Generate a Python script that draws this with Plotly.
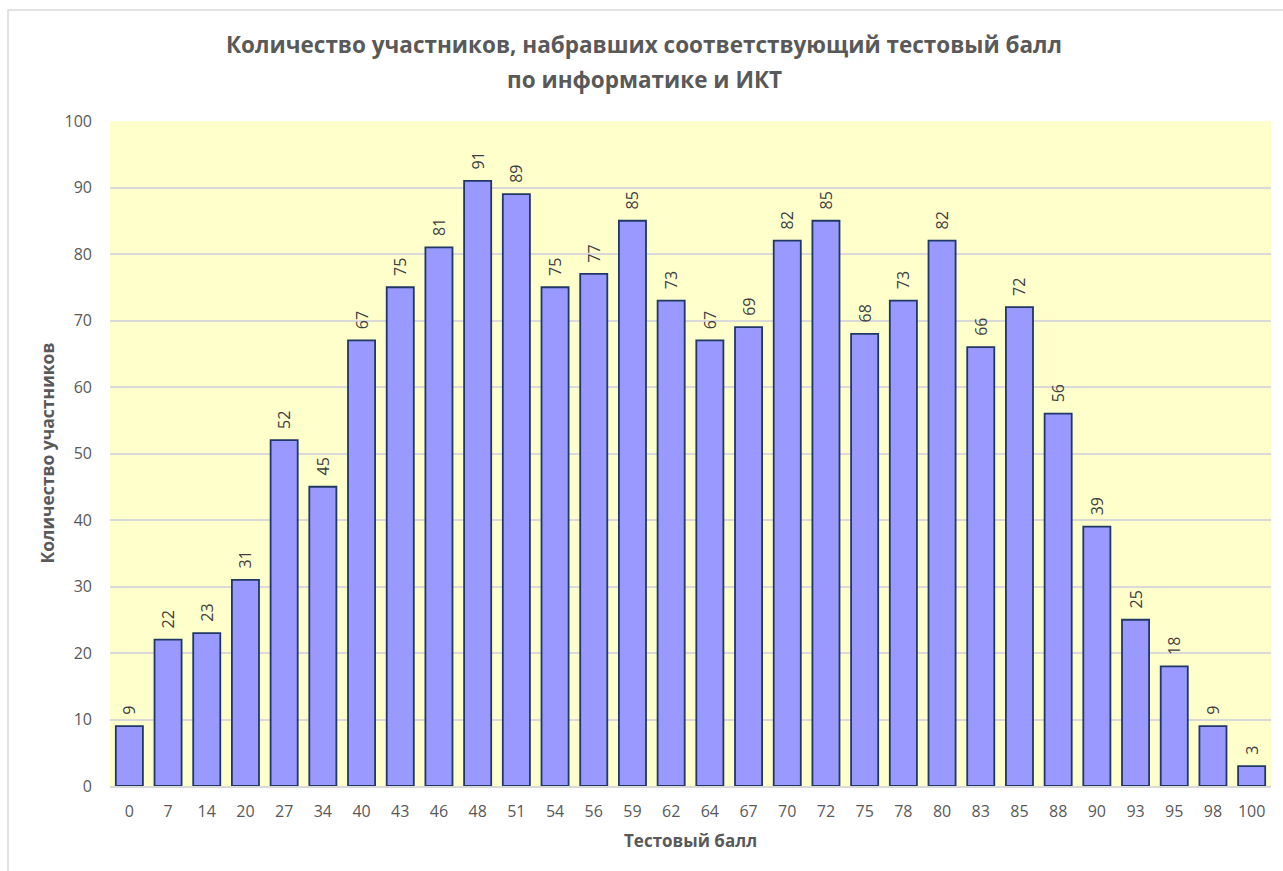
import plotly.graph_objects as go

scores = ["0", "7", "14", "20", "27", "34", "40", "43", "46", "48", "51", "54", "56", "59", "62",
          "64", "67", "70", "72", "75", "78", "80", "83", "85", "88", "90", "93", "95", "98", "100"]
counts = [9, 22, 23, 31, 52, 45, 67, 75, 81, 91, 89, 75, 77, 85, 73,
          67, 69, 82, 85, 68, 73, 82, 66, 72, 56, 39, 25, 18, 9, 3]

title_line1 = "Количество участников, набравших соответствующий тестовый балл"
title_line2 = "по информатике и ИКТ"
x_title = "Тестовый балл"
y_title = "Количество участников"

FONT = "Open Sans, Noto Sans, DejaVu Sans, sans-serif"
GREY = "#595959"

L, R, T, B = 110, 12, 121, 85
W, H = 1283, 871
PH = H - T - B
PW = W - L - R
TITLE_X = (644 - L) / PW

fig = go.Figure(go.Bar(
    x=scores, y=counts,
    marker=dict(color="#9999FF", line=dict(color="#1F3864", width=1.8)),
    text=["\u00a0\u00a0" + str(v) for v in counts],
    textposition="outside",
    textangle=-90,
    constraintext="none",
    textfont=dict(family=FONT, size=16, color="#404040"),
    cliponaxis=False,
))

fig.update_layout(
    width=W, height=H,
    margin=dict(l=L, r=R, t=T, b=B, autoexpand=False),
    paper_bgcolor="white",
    plot_bgcolor="#FFFFCC",
    bargap=0.3,
    showlegend=False,
    xaxis=dict(type="category", showgrid=False, ticks="outside", ticklen=10, tickcolor="rgba(0,0,0,0)",
               showline=True, linecolor="#D9D9D9", linewidth=2,
               tickfont=dict(family=FONT, size=16, color=GREY),
               automargin=False),
    yaxis=dict(range=[0, 100], dtick=10, showgrid=True, gridcolor="#D9D9D9", gridwidth=1.5,
               zeroline=False, ticks="", showline=False,
               tickfont=dict(family=FONT, size=16, color=GREY),
               ticklabelstandoff=17, automargin=False),
    annotations=[
        dict(text=title_line1, xref="paper", yref="paper", x=TITLE_X, y=1 + (T - 45) / PH,
             xanchor="center", yanchor="middle", showarrow=False,
             font=dict(family=FONT, size=22.5, color=GREY, weight="bold")),
        dict(text=title_line2, xref="paper", yref="paper", x=TITLE_X, y=1 + (T - 80) / PH,
             xanchor="center", yanchor="middle", showarrow=False,
             font=dict(family=FONT, size=22.5, color=GREY, weight="bold")),
        dict(text=x_title, xref="paper", yref="paper", x=0.5, y=-(840 - (H - B)) / PH,
             xanchor="center", yanchor="middle", showarrow=False,
             font=dict(family=FONT, size=17, color=GREY, weight="bold")),
        dict(text=y_title, xref="paper", yref="paper", x=-(L - 46) / PW, y=0.5,
             xanchor="center", yanchor="middle", showarrow=False, textangle=-90,
             font=dict(family=FONT, size=17.5, color=GREY, weight="bold")),
    ],
    shapes=[dict(type="rect", xref="paper", yref="paper",
                 x0=-(L - 8) / PW, x1=1.05, y0=-0.2, y1=1 + (T - 10) / PH,
                 line=dict(color="#D9D9D9", width=1.5), fillcolor="rgba(0,0,0,0)", layer="below")],
)

fig.write_html("out.html", config={"displayModeBar": False},
               post_script="document.body.style.margin='0';document.body.style.overflow='hidden';")
